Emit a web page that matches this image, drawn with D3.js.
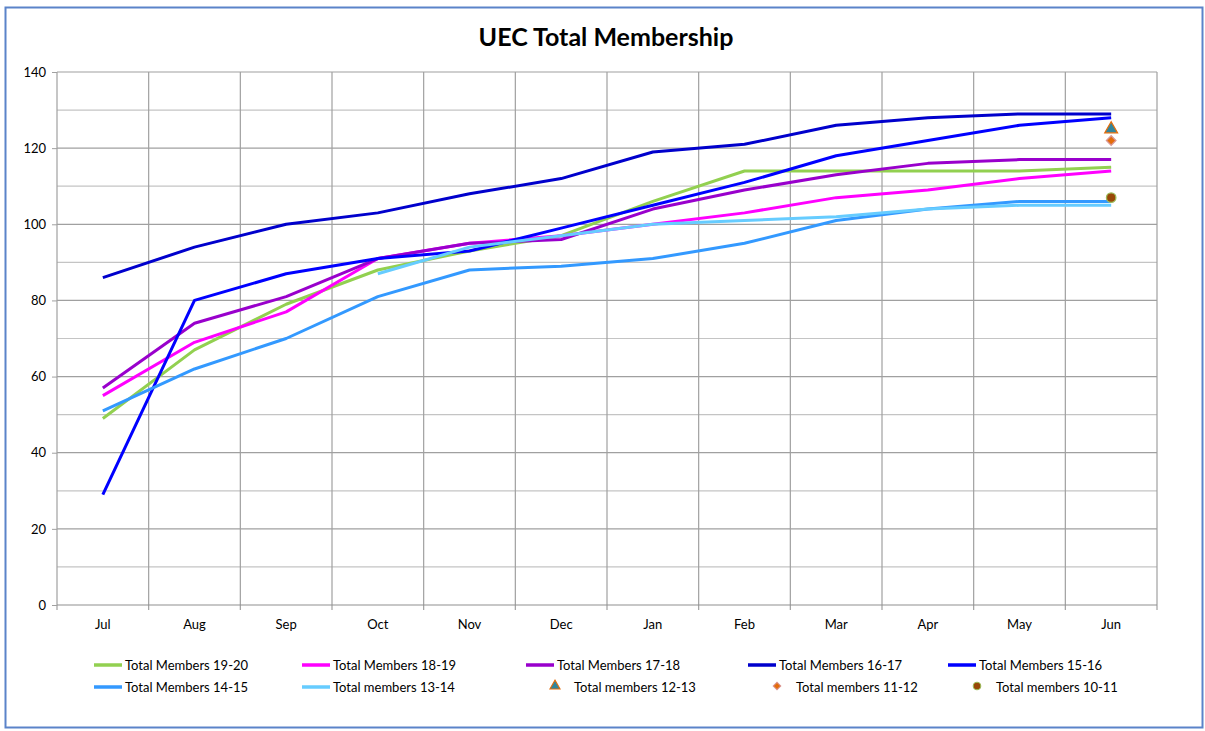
<!DOCTYPE html>
<html><head><meta charset="utf-8">
<script src="https://cdn.jsdelivr.net/npm/d3@7"></script>
<style>body{margin:0;background:#fff;} text{font-family:Lato,"Open Sans",sans-serif;fill:#000;}</style>
</head><body><svg id="c" width="1205" height="731"></svg>
<script>
const months = ["Jul","Aug","Sep","Oct","Nov","Dec","Jan","Feb","Mar","Apr","May","Jun"];
const yTicks = [0,20,40,60,80,100,120,140];
const m1920 = [49,67,79,88,93,97,106,114,114,114,114,115];
const m1819 = [55,69,77,91,95,97,100,103,107,109,112,114];
const m1718 = [57,74,81,91,95,96,104,109,113,116,117,117];
const m1617 = [86,94,100,103,108,112,119,121,126,128,129,129];
const m1516 = [29,80,87,91,93,99,105,111,118,122,126,128];
const m1415 = [51,62,70,81,88,89,91,95,101,104,106,106];
const m1314 = [null,null,null,87,94,97,100,101,102,104,105,105];
const m1213 = [{m:"Jun",v:125}];
const m1112 = [{m:"Jun",v:122}];
const m1011 = [{m:"Jun",v:107}];

const lineSeries = [
  {name:"Total Members 19-20", data:m1920, color:"#92D050"},
  {name:"Total Members 18-19", data:m1819, color:"#FF00FF"},
  {name:"Total Members 17-18", data:m1718, color:"#9900CC"},
  {name:"Total Members 16-17", data:m1617, color:"#0000CC"},
  {name:"Total Members 15-16", data:m1516, color:"#0000FF"},
  {name:"Total Members 14-15", data:m1415, color:"#3399FF"},
  {name:"Total members 13-14", data:m1314, color:"#66CCFF"}
];
const markerSeries = [
  {name:"Total members 12-13", data:m1213, type:"triangle", fill:"#31859C", stroke:"#E46C0A"},
  {name:"Total members 11-12", data:m1112, type:"diamond", fill:"#E46C0A", stroke:"#D99694"},
  {name:"Total members 10-11", data:m1011, type:"circle", fill:"#984807", stroke:"#9BBB59"}
];

const svg = d3.select("#c");
svg.append("rect").attr("x",5.5).attr("y",7.5).attr("width",1197).attr("height",720)
  .attr("fill","#fff").attr("stroke","#5B83C9").attr("stroke-width",2);

const L=57, R=1157, T=72, B=605;
const x = d3.scaleBand().domain(months).range([L,R]);
const y = d3.scaleLinear().domain([0,140]).range([B,T]);

svg.append("text").attr("x",606).attr("y",46).attr("text-anchor","middle")
  .style("font-size","25px").style("font-weight","bold").text("UEC Total Membership");

const g = svg.append("g");
d3.range(10,141,10).forEach(v=>{
  g.append("line").attr("x1",L).attr("x2",R).attr("y1",y(v)).attr("y2",y(v))
    .attr("stroke", v%20===0 ? "#a0a0a0" : "#c4c4c4").attr("stroke-width",1.2);
});
months.forEach((m,i)=>{
  const xx = x(m)+x.bandwidth();
  g.append("line").attr("x1",xx).attr("x2",xx).attr("y1",T).attr("y2",B+5)
    .attr("stroke","#a0a0a0").attr("stroke-width",1.2);
});
g.append("line").attr("x1",L).attr("x2",L).attr("y1",T).attr("y2",B+5).attr("stroke","#a0a0a0").attr("stroke-width",1.2);
g.append("line").attr("x1",L).attr("x2",R).attr("y1",B).attr("y2",B).attr("stroke","#909090").attr("stroke-width",1.2);

const ya = svg.append("g").attr("transform",`translate(${L},0)`)
  .call(d3.axisLeft(y).tickValues(yTicks).tickSize(5).tickPadding(6));
ya.select(".domain").remove();
ya.selectAll("line").attr("stroke","#a0a0a0");
ya.selectAll("text").style("font-size","13px").style("font-family","Lato,sans-serif");

const xa = svg.append("g").attr("transform",`translate(0,${B})`)
  .call(d3.axisBottom(x).tickSize(0).tickPadding(15));
xa.select(".domain").remove();
xa.selectAll("text").style("font-size","13px").style("font-family","Lato,sans-serif");

const line = d3.line().defined(d=>d.v!=null).x(d=>x(d.m)+x.bandwidth()/2).y(d=>y(d.v));
lineSeries.forEach(s=>{
  svg.append("path").datum(s.data.map((v,i)=>({m:months[i],v})))
    .attr("d",line).attr("fill","none").attr("stroke",s.color).attr("stroke-width",3)
    .attr("stroke-linejoin","round");
});

function sym(type){
  if(type==="triangle") return d3.symbol().type(d3.symbolTriangle).size(70)();
  if(type==="diamond") return d3.symbol().type(d3.symbolSquare).size(45)();
  return d3.symbol().type(d3.symbolCircle).size(70)();
}
function rot(type){ return type==="diamond" ? " rotate(45)" : ""; }
markerSeries.forEach(s=>{
  s.data.forEach(d=>{
    svg.append("path").attr("d",sym(s.type))
      .attr("transform",`translate(${x(d.m)+x.bandwidth()/2},${y(d.v)})${rot(s.type)}`)
      .attr("fill",s.fill).attr("stroke",s.stroke).attr("stroke-width",1.3);
  });
});

const colX = [94,302,526,748,948];
const rowY = [665,687];
const all = lineSeries.map(s=>({...s,kind:"line"})).concat(markerSeries.map(s=>({...s,kind:"marker"})));
all.forEach((s,i)=>{
  const r = Math.floor(i/5), c = i%5;
  const lx = colX[c], ly = rowY[r];
  if(s.kind==="line"){
    svg.append("line").attr("x1",lx).attr("x2",lx+28).attr("y1",ly).attr("y2",ly)
      .attr("stroke",s.color).attr("stroke-width",3.5);
    svg.append("text").attr("x",lx+31).attr("y",ly+4.5).style("font-size","13px").text(s.name);
  } else {
    svg.append("path").attr("d",sym(s.type)).attr("transform",`translate(${lx+29},${ly-1}) scale(0.8)${rot(s.type)}`)
      .attr("fill",s.fill).attr("stroke",s.stroke).attr("stroke-width",1.3);
    svg.append("text").attr("x",lx+48).attr("y",ly+4.5).style("font-size","13px").text(s.name);
  }
});
</script></body></html>
